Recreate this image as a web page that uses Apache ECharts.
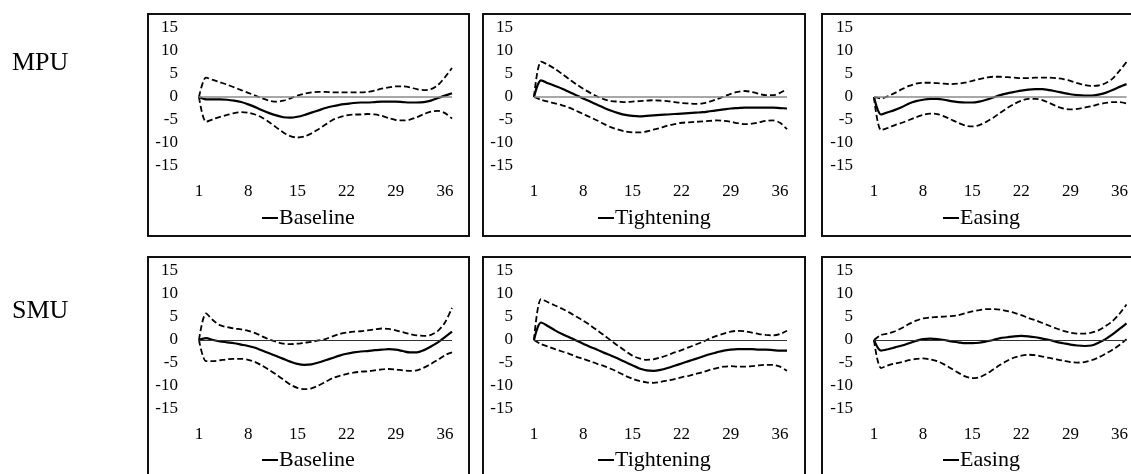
<!DOCTYPE html>
<html>
<head>
<meta charset="utf-8">
<script src="https://cdn.jsdelivr.net/npm/echarts@6/dist/echarts.min.js"></script>
<style>
html,body{margin:0;padding:0;background:#fff;}
#chart{width:1131px;height:474px;}
</style>
</head>
<body>
<div id="chart"></div>
<script>
// ---- Data ----
const horizons = [1,2,3,4,5,6,7,8,9,10,11,12,13,14,15,16,17,18,19,20,21,22,23,24,25,26,27,28,29,30,31,32,33,34,35,36,37];
const rowLabels = ['MPU', 'SMU'];
const scenarioNames = ['Baseline', 'Tightening', 'Easing'];

const mpuBaselineMid = [0,-0.5,-0.5,-0.5,-0.6,-0.8,-1.1,-1.6,-2.2,-2.9,-3.5,-4.0,-4.4,-4.5,-4.3,-3.9,-3.4,-2.9,-2.4,-2.0,-1.7,-1.5,-1.3,-1.2,-1.2,-1.1,-1.0,-1.0,-1.0,-1.1,-1.2,-1.2,-1.1,-0.8,-0.2,0.3,0.8];
const mpuBaselineUp = [0,4.2,3.7,3.2,2.7,2.1,1.5,0.9,0.3,-0.3,-0.8,-1.0,-0.8,-0.3,0.3,0.7,1.0,1.1,1.1,1.0,1.0,1.0,1.0,1.0,1.1,1.4,1.8,2.1,2.3,2.3,2.1,1.7,1.5,1.7,2.6,4.3,6.3];
const mpuBaselineLow = [0,-5.4,-4.8,-4.3,-3.9,-3.5,-3.3,-3.4,-3.8,-4.5,-5.5,-6.6,-7.7,-8.5,-8.8,-8.6,-7.9,-7.0,-6.0,-5.0,-4.4,-4.0,-3.8,-3.8,-3.7,-3.8,-4.1,-4.6,-5.0,-5.1,-4.9,-4.4,-3.7,-3.2,-3.0,-3.5,-4.7];

const mpuTightMid = [0,3.6,3.0,2.4,1.8,1.1,0.4,-0.3,-1.0,-1.7,-2.4,-3.0,-3.5,-3.9,-4.1,-4.2,-4.1,-4.0,-3.9,-3.8,-3.7,-3.6,-3.5,-3.4,-3.3,-3.1,-2.9,-2.7,-2.5,-2.4,-2.3,-2.3,-2.3,-2.3,-2.3,-2.4,-2.5];
const mpuTightUp = [0,7.7,7.0,6.1,5.0,3.9,2.8,1.8,0.9,0.1,-0.5,-0.9,-1.0,-1.1,-1.0,-0.9,-0.8,-0.7,-0.8,-0.9,-1.1,-1.3,-1.4,-1.5,-1.4,-1.0,-0.5,0.1,0.7,1.1,1.3,1.1,0.7,0.4,0.4,0.9,1.7];
const mpuTightLow = [0,-0.6,-1.0,-1.4,-1.8,-2.3,-3.0,-3.7,-4.4,-5.1,-5.9,-6.6,-7.1,-7.5,-7.7,-7.7,-7.5,-7.1,-6.7,-6.2,-5.9,-5.6,-5.5,-5.4,-5.3,-5.2,-5.1,-5.2,-5.4,-5.7,-5.9,-5.8,-5.5,-5.2,-5.1,-5.6,-7.0];

const mpuEaseMid = [0,-3.8,-3.3,-2.8,-2.2,-1.4,-0.9,-0.6,-0.4,-0.4,-0.6,-0.9,-1.1,-1.2,-1.2,-1.0,-0.6,-0.1,0.4,0.8,1.1,1.4,1.6,1.7,1.7,1.5,1.2,0.9,0.6,0.4,0.3,0.3,0.5,0.9,1.5,2.2,2.8];
const mpuEaseUp = [0,-0.3,0.2,0.9,1.7,2.4,2.9,3.1,3.1,3.0,2.9,2.8,2.9,3.1,3.5,3.9,4.2,4.4,4.4,4.3,4.2,4.1,4.1,4.2,4.2,4.2,4.1,3.9,3.5,3.0,2.6,2.4,2.5,3.0,4.0,5.7,7.6];
const mpuEaseLow = [0,-7.2,-6.7,-6.1,-5.6,-5.0,-4.4,-3.9,-3.6,-3.7,-4.2,-4.9,-5.6,-6.2,-6.4,-6.1,-5.4,-4.5,-3.4,-2.4,-1.5,-0.8,-0.4,-0.4,-0.7,-1.3,-2.0,-2.5,-2.7,-2.6,-2.3,-2.0,-1.6,-1.3,-1.1,-1.1,-1.4];

const smuBaselineMid = [0,0.4,0.0,-0.3,-0.5,-0.7,-1.0,-1.3,-1.7,-2.3,-2.9,-3.5,-4.1,-4.7,-5.2,-5.4,-5.3,-4.9,-4.4,-3.9,-3.4,-3.0,-2.7,-2.5,-2.4,-2.2,-2.1,-2.0,-2.1,-2.4,-2.7,-2.7,-2.2,-1.4,-0.5,0.6,1.8];
const smuBaselineUp = [0,5.8,4.3,3.2,2.8,2.5,2.3,2.0,1.5,0.8,0.1,-0.4,-0.8,-0.9,-0.8,-0.6,-0.4,-0.1,0.2,0.8,1.3,1.6,1.8,1.9,2.1,2.3,2.5,2.4,2.1,1.7,1.3,1.0,0.9,1.1,2.0,3.8,7.0];
const smuBaselineLow = [0,-4.6,-4.6,-4.4,-4.2,-4.1,-4.1,-4.3,-4.8,-5.6,-6.5,-7.5,-8.6,-9.7,-10.4,-10.7,-10.5,-9.9,-9.1,-8.3,-7.8,-7.4,-7.1,-6.9,-6.8,-6.6,-6.4,-6.3,-6.4,-6.6,-6.7,-6.6,-6.0,-5.2,-4.3,-3.3,-2.7];

const smuTightMid = [0,3.8,3.0,2.1,1.3,0.6,-0.1,-0.8,-1.5,-2.1,-2.8,-3.4,-4.1,-4.8,-5.5,-6.2,-6.6,-6.7,-6.5,-6.1,-5.6,-5.1,-4.6,-4.1,-3.6,-3.1,-2.7,-2.3,-2.1,-2.0,-2.0,-2.0,-2.1,-2.1,-2.2,-2.3,-2.3];
const smuTightUp = [0,8.9,8.2,7.5,6.8,6.0,5.1,4.2,3.2,2.1,1.0,-0.2,-1.3,-2.4,-3.4,-4.0,-4.3,-4.2,-3.8,-3.3,-2.7,-2.2,-1.6,-1.0,-0.4,0.3,0.9,1.4,1.8,2.0,1.9,1.6,1.3,1.1,1.0,1.3,2.0];
const smuTightLow = [0,-0.9,-1.4,-2.0,-2.5,-3.0,-3.6,-4.1,-4.6,-5.2,-5.7,-6.3,-7.0,-7.8,-8.4,-8.9,-9.2,-9.3,-9.1,-8.8,-8.5,-8.1,-7.8,-7.4,-7.0,-6.5,-6.1,-5.8,-5.7,-5.8,-5.8,-5.7,-5.5,-5.4,-5.4,-5.8,-6.7];

const smuEaseMid = [0,-2.3,-2.0,-1.6,-1.2,-0.7,-0.2,0.2,0.3,0.2,0.0,-0.3,-0.5,-0.7,-0.7,-0.6,-0.3,0.0,0.4,0.6,0.8,0.9,0.8,0.6,0.3,0.0,-0.4,-0.7,-1.0,-1.2,-1.3,-1.2,-0.6,0.2,1.2,2.4,3.6];
const smuEaseUp = [0,1.1,1.4,1.9,2.6,3.5,4.2,4.7,4.9,5.0,5.1,5.2,5.4,5.8,6.2,6.5,6.7,6.7,6.6,6.3,5.9,5.4,4.8,4.3,3.7,3.1,2.5,2.0,1.6,1.4,1.4,1.6,2.1,3.0,4.1,5.7,7.7];
const smuEaseLow = [0,-6.1,-5.5,-5.1,-4.8,-4.4,-4.1,-4.0,-4.2,-4.6,-5.3,-6.2,-7.1,-7.9,-8.3,-8.1,-7.4,-6.4,-5.4,-4.5,-3.8,-3.4,-3.2,-3.3,-3.6,-3.9,-4.2,-4.5,-4.8,-4.9,-4.8,-4.4,-3.8,-3.0,-2.1,-1.1,0.2];

// ---- Layout ----
const FONT = "'Liberation Serif', 'Times New Roman', serif";
const gridLeft = [199, 534, 874];
const gridTop = [28, 271];
const gridW = 253, gridH = 138;
const boxLeft = [148, 483, 822];
const boxRight = [469, 805, 1143];
const boxTop = [14, 257];
const boxBottom = [236, 480];
const legendLeft = [262, 598, 943];
const legendTop = [207, 449];

const panels = [
  {row:0, col:0, mid:mpuBaselineMid, up:mpuBaselineUp, low:mpuBaselineLow},
  {row:0, col:1, mid:mpuTightMid, up:mpuTightUp, low:mpuTightLow},
  {row:0, col:2, mid:mpuEaseMid, up:mpuEaseUp, low:mpuEaseLow},
  {row:1, col:0, mid:smuBaselineMid, up:smuBaselineUp, low:smuBaselineLow},
  {row:1, col:1, mid:smuTightMid, up:smuTightUp, low:smuTightLow},
  {row:1, col:2, mid:smuEaseMid, up:smuEaseUp, low:smuEaseLow}
];

const grid = [], xAxis = [], yAxis = [], series = [], legend = [], graphic = [];
panels.forEach((p, i) => {
  grid.push({left: gridLeft[p.col], top: gridTop[p.row], width: gridW, height: gridH, containLabel: false});
  xAxis.push({
    type: 'category', gridIndex: i, data: horizons, boundaryGap: false,
    axisLine: {show: false}, axisTick: {show: false}, splitLine: {show: false},
    axisLabel: {interval: 6, margin: 17, fontFamily: FONT, fontSize: 17, color: '#000'}
  });
  yAxis.push({
    type: 'value', gridIndex: i, min: -15, max: 15, interval: 5,
    axisLine: {show: false}, axisTick: {show: false}, splitLine: {show: false},
    axisLabel: {margin: 21, fontFamily: FONT, fontSize: 17, color: '#000'}
  });
  const name = scenarioNames[p.col];
  series.push({
    name: name, type: 'line', xAxisIndex: i, yAxisIndex: i, data: p.mid,
    symbol: 'none', smooth: 0.3, color: '#000',
    lineStyle: {color: '#000', width: 2.2},
    markLine: {
      silent: true, symbol: 'none', label: {show: false},
      lineStyle: {color: p.row === 0 ? '#8a8a8a' : '#333', width: p.row === 0 ? 1.5 : 1, type: 'solid'},
      data: [{yAxis: 0}]
    },
    z: 3
  });
  series.push({
    name: name + ' upper', type: 'line', xAxisIndex: i, yAxisIndex: i, data: p.up,
    symbol: 'none', smooth: 0.3, color: '#000',
    lineStyle: {color: '#000', width: 1.8, type: [6, 3]}
  });
  series.push({
    name: name + ' lower', type: 'line', xAxisIndex: i, yAxisIndex: i, data: p.low,
    symbol: 'none', smooth: 0.3, color: '#000',
    lineStyle: {color: '#000', width: 1.8, type: [6, 3]}
  });
  legend.push({
    data: [name], left: legendLeft[p.col], top: legendTop[p.row], padding: 0,
    icon: 'rect', itemWidth: 16, itemHeight: 2, selectedMode: false,
    itemStyle: {color: '#000'},
    textStyle: {fontFamily: FONT, fontSize: 22, color: '#000', padding: [0, 0, 0, -4]}
  });
  graphic.push({
    type: 'rect', silent: true,
    shape: {x: boxLeft[p.col], y: boxTop[p.row], width: boxRight[p.col] - boxLeft[p.col], height: boxBottom[p.row] - boxTop[p.row]},
    style: {fill: 'none', stroke: '#111', lineWidth: 2}
  });
});

rowLabels.forEach((t, r) => {
  graphic.push({
    type: 'text', left: 12, top: r === 0 ? 50 : 298, silent: true,
    style: {text: t, font: '26px ' + FONT, fill: '#000'}
  });
});

const chart = echarts.init(document.getElementById('chart'), null, {renderer: 'canvas'});
chart.setOption({
  animation: false,
  backgroundColor: '#fff',
  grid, xAxis, yAxis, series, legend, graphic
});
</script>
</body>
</html>
